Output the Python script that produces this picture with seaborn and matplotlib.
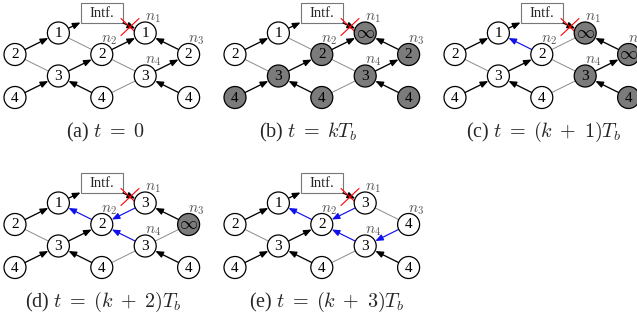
import numpy as np
import pandas as pd
import seaborn as sns
import matplotlib
matplotlib.use("Agg")  # non-interactive backend
import matplotlib.pyplot as plt
from matplotlib.patches import FancyArrowPatch, Rectangle

# Routers of the grid: id, column, row
node_ids = ["A", "B", "C", "D", "E", "F", "G", "H", "I", "J"]
node_col = [0, 1, 0, 1, 2, 3, 2, 3, 4, 4]
node_row = [1, 0, 3, 2, 1, 0, 3, 2, 1, 3]
node_names = {"F": "$n_1$", "E": "$n_2$", "I": "$n_3$", "H": "$n_4$"}

INF = r"$\infty$"
# hop counts shown in every node, per snapshot
labels_a = ["2", "1", "4", "3", "2", "1", "4", "3", "2", "4"]
labels_b = ["2", "1", "4", "3", "2", INF, "4", "3", "2", "4"]
labels_c = ["2", "1", "4", "3", "2", INF, "4", "3", INF, "4"]
labels_d = ["2", "1", "4", "3", "2", "3", "4", "3", INF, "4"]
labels_e = ["2", "1", "4", "3", "2", "3", "4", "3", "4", "4"]

# nodes drawn shaded (still affected) per snapshot
shaded_a = []
shaded_b = ["C", "D", "E", "F", "G", "H", "I", "J"]
shaded_c = ["F", "H", "I", "J"]
shaded_d = ["I"]
shaded_e = []

# links: (from, to, kind)  k = parent arrow, b = new parent, g = plain link
links_a = [("A", "B", "k"), ("A", "D", "g"), ("C", "D", "k"), ("B", "E", "g"),
           ("D", "E", "k"), ("G", "D", "k"), ("E", "F", "k"), ("E", "H", "g"),
           ("G", "H", "g"), ("I", "F", "k"), ("H", "I", "k"), ("J", "H", "k")]
links_b = list(links_a)
links_c = [("A", "B", "k"), ("A", "D", "g"), ("C", "D", "k"), ("E", "B", "b"),
           ("D", "E", "k"), ("G", "D", "k"), ("E", "F", "g"), ("E", "H", "g"),
           ("G", "H", "g"), ("I", "F", "k"), ("H", "I", "k"), ("J", "H", "k")]
links_d = [("A", "B", "k"), ("A", "D", "g"), ("C", "D", "k"), ("E", "B", "b"),
           ("D", "E", "k"), ("G", "D", "k"), ("F", "E", "b"), ("H", "E", "b"),
           ("G", "H", "g"), ("I", "F", "k"), ("H", "I", "g"), ("J", "H", "k")]
links_e = [("A", "B", "k"), ("A", "D", "g"), ("C", "D", "k"), ("E", "B", "b"),
           ("D", "E", "k"), ("G", "D", "k"), ("F", "E", "b"), ("H", "E", "b"),
           ("G", "H", "g"), ("F", "I", "g"), ("I", "H", "b"), ("J", "H", "k")]

captions = [r"(a) $t\;=\;0$", r"(b) $t\;=\;kT_b$", r"(c) $t\;=\;(k\;+\;1)T_b$",
            r"(d) $t\;=\;(k\;+\;2)T_b$", r"(e) $t\;=\;(k\;+\;3)T_b$"]

panels = list(zip([labels_a, labels_b, labels_c, labels_d, labels_e],
                  [shaded_a, shaded_b, shaded_c, shaded_d, shaded_e],
                  [links_a, links_b, links_c, links_d, links_e],
                  captions))

# layout (pixels)
X0, DX_COL = 15.0, 43.4
Y0, DY_ROW = 33.0, 21.5
R = 11.0
panel_off = [(0, 0), (220, 0), (440, 0), (0, 170), (220, 170)]
caption_x = [105, 308, 544, 103, 327]
caption_y = [132, 132, 132, 302, 302]
SHADE = "#7b7b7b"
BLUE = "#1010ee"

sns.set_style("white")
plt.rcParams["font.family"] = ["Liberation Serif", "DejaVu Serif"]
plt.rcParams["mathtext.fontset"] = "cm"

fig = plt.figure(figsize=(6.37, 3.2), dpi=100)
ax = fig.add_axes([0, 0, 1, 1])
ax.set_xlim(0, 637)
ax.set_ylim(320, 0)
ax.axis("off")


def arrow(ax, p, q, color, lw=0.95):
    a = FancyArrowPatch(p, q, arrowstyle="-|>,head_length=4.6,head_width=1.9",
                        mutation_scale=1, lw=lw, color=color,
                        shrinkA=0, shrinkB=0, zorder=2)
    ax.add_patch(a)


rows = []
for k, (labels, shaded, links, cap) in enumerate(panels):
    ox, oy = panel_off[k]
    pos = {}
    for nid, c, r, lab in zip(node_ids, node_col, node_row, labels):
        x = ox + X0 + c * DX_COL
        y = oy + Y0 + r * DY_ROW
        pos[nid] = np.array([x, y])
        rows.append({"x": x, "y": y, "label": lab, "shaded": nid in shaded})
        ax.text(x, y + (0.0 if lab == INF else 0.5), lab, ha="center",
                va="center", fontsize=13 if lab == INF else 11,
                color="black", zorder=4)
        if nid in node_names:
            ax.text(x + 7.5, y - 14.5, node_names[nid], ha="center",
                    va="center", fontsize=11, color="#555555", zorder=4)

    for u, v, kind in links:
        p, q = pos[u], pos[v]
        d = (q - p) / np.linalg.norm(q - p)
        if kind == "g":
            ax.plot([p[0], q[0]], [p[1], q[1]], color="#8c8c8c", lw=0.7,
                    zorder=1)
        else:
            arrow(ax, p + d * R, q - d * (R + 0.3),
                  "black" if kind == "k" else BLUE,
                  lw=0.95 if kind == "k" else 0.85)

    # interference box
    bx0, bx1, by0, by1 = ox + 81, ox + 123, oy + 3, oy + 23
    ax.add_patch(Rectangle((bx0, by0), bx1 - bx0, by1 - by0, fill=True,
                           facecolor="white", edgecolor="#777777", lw=0.8,
                           zorder=2))
    ax.text((bx0 + bx1) / 2, (by0 + by1) / 2 + 0.5, "Intf.", ha="center",
            va="center", fontsize=10.5, zorder=3)
    # B -> box
    p = pos["B"]
    q = np.array([bx0 - 0.5, by1 - 0.5])
    d = (q - p) / np.linalg.norm(q - p)
    arrow(ax, p + d * R, q, "black")
    # box -> n1 (broken)
    p = np.array([bx1, by1])
    q = pos["F"]
    d = (q - p) / np.linalg.norm(q - p)
    arrow(ax, p, q - d * R, "black")
    cx, cy = ox + 130, oy + 27
    ax.plot([cx - 9, cx + 9], [cy - 8.5, cy + 8.5], color="red", lw=0.8,
            zorder=3)
    ax.plot([cx - 9, cx + 9], [cy + 8.5, cy - 8.5], color="red", lw=0.8,
            zorder=3)

    ax.text(caption_x[k], caption_y[k], cap, ha="center", va="center",
            fontsize=14.5)

nodes = pd.DataFrame(rows)
sns.scatterplot(data=nodes, x="x", y="y", hue="shaded",
                palette={False: "white", True: SHADE}, s=(2 * R * 0.72) ** 2,
                edgecolor="black", linewidth=0.9, legend=False, ax=ax,
                zorder=3)
ax.set_xlim(0, 637)
ax.set_ylim(320, 0)
ax.axis("off")

fig.savefig("out.png", dpi=100)
plt.close(fig)
